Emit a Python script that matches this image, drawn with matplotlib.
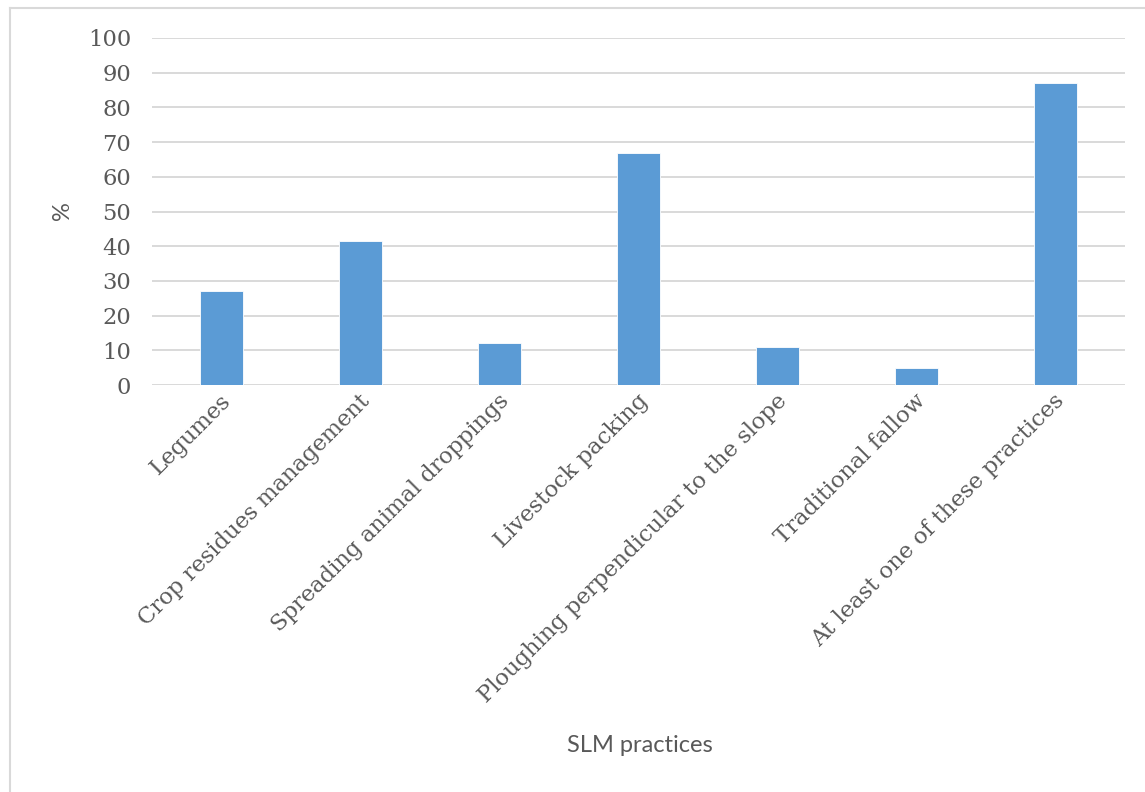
import matplotlib
matplotlib.use("Agg")
import matplotlib.pyplot as plt
from matplotlib.lines import Line2D
from matplotlib.transforms import ScaledTranslation

categories = ["Legumes", "Crop residues management", "Spreading animal droppings",
              "Livestock packing", "Ploughing perpendicular to the slope",
              "Traditional fallow", "At least one of these practices"]
values = [27, 41.5, 12, 67, 11, 5, 87]
yticks = [0, 10, 20, 30, 40, 50, 60, 70, 80, 90, 100]

W, H = 1145, 792
fig = plt.figure(figsize=(W / 100, H / 100), dpi=100)
ax = fig.add_axes([152 / W, 1 - 385 / H, (1125 - 152) / W, (385 - 38) / H])

x = list(range(len(categories)))
ax.bar(x, values, width=0.31, color="#5B9BD5", edgecolor="#FFFFFF", linewidth=0.6, zorder=3)
ax.set_xlim(-0.5, len(categories) - 0.5)
ax.set_ylim(0, 100)
ax.set_yticks(yticks)
ax.yaxis.grid(True, color="#D9D9D9", linewidth=1.4, zorder=0)
ax.set_axisbelow(True)
for s in ax.spines.values():
    s.set_visible(False)
ax.tick_params(axis="both", length=0)
ax.tick_params(axis="y", pad=15)

tick_font = dict(family="DejaVu Serif", size=16.3, color="#595959")
ax.set_yticklabels([str(t) for t in yticks], **tick_font)
ax.set_xticks(x)
ax.set_xticklabels(categories, rotation=45, ha="right", va="center",
                   rotation_mode="anchor", **tick_font)
ax.tick_params(axis="x", pad=9)
offset = ScaledTranslation(6 / 100, 0, fig.dpi_scale_trans)
for lbl in ax.get_xticklabels():
    lbl.set_transform(lbl.get_transform() + offset)

lab_font = dict(family="Lato", size=17, color="#595959")
fig.text(62 / W, 1 - 211 / H, "%", rotation=90, ha="center", va="center", **lab_font)
fig.text(640 / W, 1 - 745 / H, "SLM practices", ha="center", va="center", **lab_font)

# chart area border (left and top visible)
fig.add_artist(Line2D([10 / W, 10 / W], [0, 1 - 8 / H], transform=fig.transFigure,
                      color="#D9D9D9", linewidth=1.5))
fig.add_artist(Line2D([10 / W, 1], [1 - 8 / H, 1 - 8 / H], transform=fig.transFigure,
                      color="#D9D9D9", linewidth=1.5))

fig.savefig("out.png", dpi=100, facecolor="white")
